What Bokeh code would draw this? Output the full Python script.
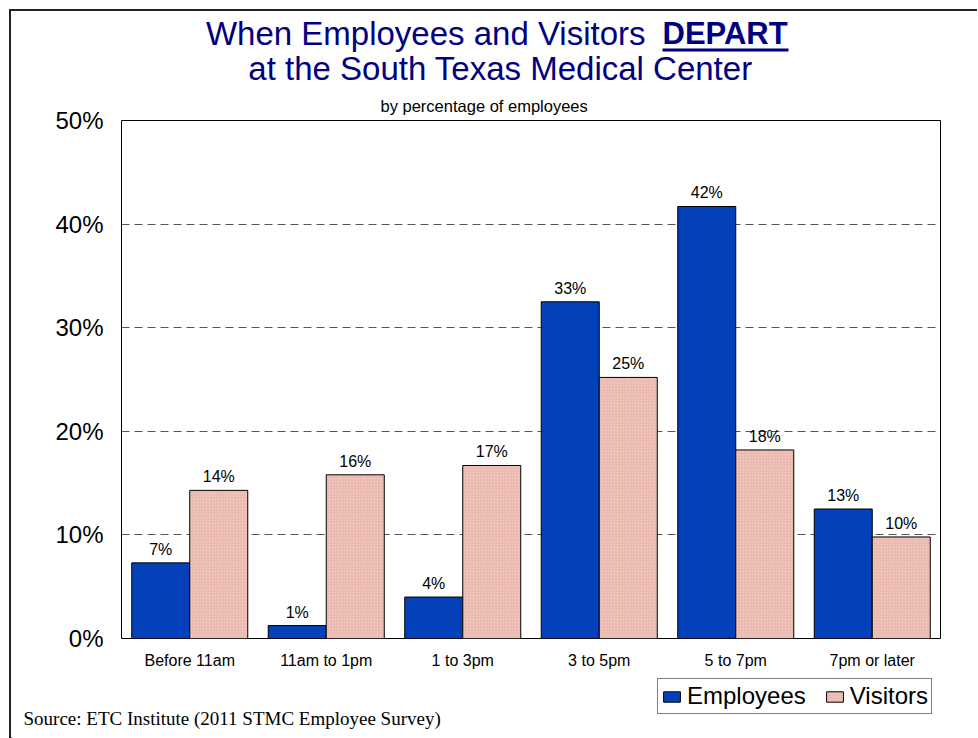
from bokeh.plotting import figure
from bokeh.layouts import column
from bokeh.models import (Range1d, FixedTicker, Legend, LegendItem, ColumnDataSource)
from bokeh.embed import file_html
from bokeh.resources import INLINE
from bokeh.core.properties import value

# ---- data ----
categories = ["Before 11am", "11am to 1pm", "1 to 3pm", "3 to 5pm", "5 to 7pm", "7pm or later"]
employees = [7.3, 1.25, 4.0, 32.5, 41.7, 12.5]
visitors = [14.3, 15.8, 16.7, 25.2, 18.2, 9.8]
employee_labels = ["7%", "1%", "4%", "33%", "42%", "13%"]
visitor_labels = ["14%", "16%", "17%", "25%", "18%", "10%"]
y_ticks = [0, 10, 20, 30, 40, 50]
y_tick_labels = ["0%", "10%", "20%", "30%", "40%", "50%"]
series_names = ["Employees", "Visitors"]

title_line1 = "When Employees and Visitors"
title_emph = "DEPART"
title_line2 = "at the South Texas Medical Center"
subtitle = "by percentage of employees"
source_note = "Source:  ETC Institute (2011 STMC Employee Survey)"

FONT = "Liberation Sans"
NAVY = "#000080"
BLUE = "#0340BA"
PINK = "#F4CCC4"
HATCH = dict(hatch_pattern="right_diagonal_line", hatch_scale=3,
             hatch_color="#E2AAA0", hatch_weight=0.8)
BAR_W = 0.425
W = 966


def blank(height):
    f = figure(width=W, height=height, x_range=Range1d(0, W), y_range=Range1d(0, height),
               min_border=0, toolbar_location=None, output_backend="svg",
               x_axis_location=None, y_axis_location=None)
    f.title.visible = False
    f.grid.visible = False
    f.outline_line_color = None
    f.background_fill_color = "white"
    f.border_fill_color = "white"
    return f


# ---- header (title lines) ----
HH = 77
head = blank(HH)
head.text(x=[634], y=[55.5], text=[title_line1], text_align="right",
          text_baseline="middle", text_font=value(FONT),
          text_font_size="33px", text_color=NAVY)
head.text(x=[651], y=[54.9], text=[title_emph], text_align="left",
          text_baseline="middle", text_font=value(FONT), text_font_style="bold",
          text_font_size="31px", text_color=NAVY)
head.quad(left=[651], right=[777], bottom=[37], top=[40], fill_color=NAVY, line_color=None)
head.text(x=[489], y=[20.5], text=[title_line2], text_align="center",
          text_baseline="middle", text_font=value(FONT),
          text_font_size="33px", text_color=NAVY)

# ---- main chart ----
centers = [i + 0.5 for i in range(len(categories))]
emp_x = [c - BAR_W / 2 for c in centers]
vis_x = [c + BAR_W / 2 for c in centers]
src_e = ColumnDataSource(dict(x=emp_x, top=employees, lab=employee_labels))
src_v = ColumnDataSource(dict(x=vis_x, top=visitors, lab=visitor_labels))

p = figure(width=W, height=588, output_backend="svg", toolbar_location=None,
           x_range=Range1d(0, len(categories)), y_range=Range1d(0, 50),
           min_border_left=110, min_border_right=37, min_border_top=32,
           min_border_bottom=38)
p.outline_line_color = "black"
p.outline_line_width = 1
p.background_fill_color = "white"
p.border_fill_color = "white"

p.title.text = subtitle
p.title.align = "left"
p.title.offset = 259
p.title.standoff = 12
p.title.text_font = FONT
p.title.text_font_size = "16.5px"
p.title.text_font_style = "normal"
p.title.text_color = "black"

p.xaxis.ticker = FixedTicker(ticks=centers)
p.xaxis.major_label_overrides = {c: n for c, n in zip(centers, categories)}
p.xaxis.major_label_text_font = FONT
p.xaxis.major_label_text_font_size = "16px"
p.xaxis.major_label_text_color = "black"
p.xaxis.major_label_standoff = 7
p.yaxis.ticker = FixedTicker(ticks=y_ticks)
p.yaxis.major_label_overrides = {t: l for t, l in zip(y_ticks, y_tick_labels)}
p.yaxis.major_label_text_font = FONT
p.yaxis.major_label_text_font_size = "24px"
p.yaxis.major_label_text_color = "black"
p.yaxis.major_label_standoff = 12
for ax in (p.xaxis, p.yaxis):
    ax.axis_line_color = None
    ax.major_tick_line_color = None
    ax.minor_tick_line_color = None

p.xgrid.grid_line_color = None
p.ygrid.ticker = FixedTicker(ticks=[10, 20, 30, 40])
p.ygrid.grid_line_color = "#555555"
p.ygrid.grid_line_dash = "8 5"
p.ygrid.grid_line_width = 1

p.vbar(x="x", top="top", bottom=0, width=BAR_W, source=src_e,
       fill_color=BLUE, line_color="black", line_width=1)
p.vbar(x="x", top="top", bottom=0, width=BAR_W, source=src_v,
       fill_color=PINK, line_color="black", line_width=1, **HATCH)

for s in (src_e, src_v):
    p.text(x="x", y="top", text="lab", source=s, text_align="center",
           text_baseline="bottom", y_offset=-5, text_font=value(FONT),
           text_font_size="16px", text_color="black")

# ---- footer (legend + source) ----
FH = 62
foot = blank(FH)
# swatch-only renderers for the legend (their single point lies off-canvas)
sw_e = foot.vbar(x=[-1000], top=[1], width=1, fill_color=BLUE, line_color="black", line_width=1)
sw_v = foot.vbar(x=[-1000], top=[1], width=1, fill_color=PINK, line_color="black",
                 line_width=1, **HATCH)
legend = Legend(items=[LegendItem(label=series_names[0], renderers=[sw_e]),
                       LegendItem(label=series_names[1], renderers=[sw_v])],
                orientation="horizontal", location=(646, 24),
                label_text_font=FONT, label_text_font_size="24px",
                label_text_color="black", glyph_width=21, glyph_height=13,
                label_standoff=5, spacing=18, padding=3, margin=0,
                border_line_color="black", border_line_width=1,
                background_fill_color="white", background_fill_alpha=1)
foot.add_layout(legend, "center")
foot.text(x=[12], y=[19.6], text=[source_note], text_align="left",
          text_baseline="middle", text_font=value("Liberation Serif"),
          text_font_size="19px", text_color="black")

for f in (head, p, foot):
    try:
        f.frame_align = False
    except Exception:
        pass

page = column(head, p, foot, spacing=0,
              styles={"margin-left": "9px", "margin-top": "9px",
                      "border-left": "2px solid #222", "border-top": "2px solid #222"})

open("out.html", "w").write(file_html(page, INLINE))
